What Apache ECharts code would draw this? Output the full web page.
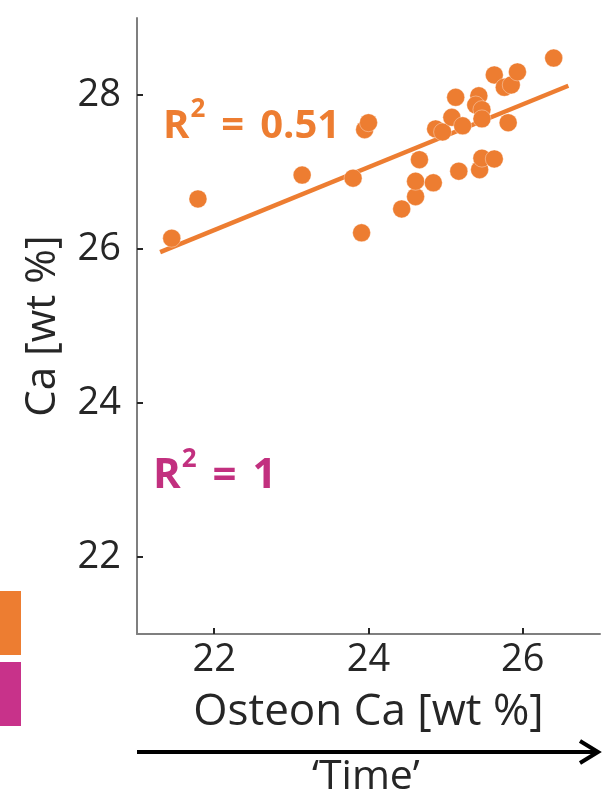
<!DOCTYPE html>
<html>
<head>
<meta charset="utf-8">
<script src="https://cdn.jsdelivr.net/npm/echarts@6/dist/echarts.min.js"></script>
<style>
html,body{margin:0;padding:0;background:#fff;}
#chart{width:603px;height:800px;}
</style>
</head>
<body>
<div id="chart"></div>
<script>
// Osteon Ca (x) vs Ca (y), wt %
const osteonCa = [21.45, 21.79, 23.14, 23.80, 23.91, 23.95, 24.00, 24.43, 24.61, 24.61,
                  24.66, 24.84, 24.87, 24.96, 25.08, 25.17, 25.22, 25.13, 25.44, 25.47,
                  25.63, 25.43, 25.39, 25.47, 25.47, 25.81, 25.63, 25.76, 25.85, 25.93, 26.40];
const caValues = [26.14, 26.65, 26.96, 26.92, 26.21, 27.55, 27.64, 26.52, 26.68, 26.88,
                  27.16, 26.86, 27.56, 27.52, 27.71, 27.01, 27.60, 27.97, 27.03, 27.18,
                  27.17, 27.99, 27.87, 27.81, 27.69, 27.64, 28.26, 28.10, 28.13, 28.30, 28.48];
// regression line end points
const fitX = [21.30, 26.59];
const fitY = [25.96, 28.12];
const xTicks = [22, 24, 26];
const yTicks = [22, 24, 26, 28];
const r2Labels = ['0.51', '1'];

const ORANGE = '#ED7D31';
const MAGENTA = '#C8328A';
const MAGENTA_TEXT = '#C2307F';
const TEXT = '#262626';
const FONT = 'Open Sans';

function r2Rich(color, size) {
  return {
    r: {fontSize: size, fontWeight: 'bold', fill: color, fontFamily: FONT, verticalAlign: 'bottom', lineHeight: 50},
    s: {fontSize: 26, fontWeight: 'bold', fill: color, fontFamily: FONT, verticalAlign: 'top', lineHeight: 50, padding: [0, 0, 22, 1]},
    e: {fontSize: size, fontWeight: 'bold', fill: color, fontFamily: FONT, verticalAlign: 'bottom', lineHeight: 50, padding: [0, 16, 0, 16]}
  };
}

const chart = echarts.init(document.getElementById('chart'));
const option = {
  animation: false,
  textStyle: {fontFamily: FONT},
  grid: {left: 137, right: 3, top: 18, bottom: 166},
  xAxis: {
    type: 'value', min: 21, max: 27,
    name: 'Osteon Ca [wt %]', nameLocation: 'middle', nameGap: 56,
    nameTextStyle: {fontSize: 44, color: TEXT, fontFamily: FONT},
    axisLine: {show: true, onZero: false, lineStyle: {color: '#7f7f7f', width: 2}},
    axisTick: {show: true, inside: true, length: 6, customValues: xTicks, lineStyle: {color: TEXT, width: 2}},
    axisLabel: {customValues: xTicks, fontSize: 38, color: TEXT, margin: 7, fontFamily: FONT},
    splitLine: {show: false}
  },
  yAxis: {
    type: 'value', min: 21, max: 29,
    name: 'Ca [wt %]', nameLocation: 'middle', nameGap: 73, nameRotate: 90,
    nameTextStyle: {fontSize: 42, color: TEXT, fontFamily: FONT},
    axisLine: {show: true, onZero: false, lineStyle: {color: '#7f7f7f', width: 2}},
    axisTick: {show: true, inside: true, length: 6, customValues: yTicks, lineStyle: {color: TEXT, width: 2}},
    axisLabel: {customValues: yTicks, fontSize: 38, color: TEXT, margin: 16, fontFamily: FONT},
    splitLine: {show: false}
  },
  series: [
    {
      type: 'line',
      data: fitX.map((x, i) => [x, fitY[i]]),
      showSymbol: false, symbol: 'none',
      lineStyle: {color: ORANGE, width: 4.5},
      z: 2
    },
    {
      type: 'scatter',
      data: osteonCa.map((x, i) => [x, caValues[i]]),
      symbolSize: 18,
      itemStyle: {color: ORANGE, borderColor: 'rgba(255,255,255,0.6)', borderWidth: 0.6, opacity: 1},
      z: 3
    }
  ],
  graphic: [
    {
      type: 'text', left: 163, top: 97,
      style: {text: '{r|R}{s|2}{e|=}{r|' + r2Labels[0] + '}', rich: r2Rich(ORANGE, 40)}
    },
    {
      type: 'text', left: 153, top: 447,
      style: {text: '{r|R}{s|2}{e|=}{r|' + r2Labels[1] + '}', rich: r2Rich(MAGENTA_TEXT, 42)}
    },
    {type: 'rect', shape: {x: 0, y: 591, width: 21, height: 64}, style: {fill: ORANGE}},
    {type: 'rect', shape: {x: 0, y: 662, width: 21, height: 64}, style: {fill: MAGENTA}},
    {type: 'line', shape: {x1: 137, y1: 752, x2: 598, y2: 752}, style: {stroke: '#000', lineWidth: 4}},
    {type: 'polyline', shape: {points: [[580, 741], [598, 752], [580, 763]]}, style: {stroke: '#000', lineWidth: 4, fill: null, lineJoin: 'miter'}},
    {
      type: 'text', left: 312, top: 757,
      style: {text: '\u2018Time\u2019', fontSize: 41, fill: TEXT, fontFamily: FONT}
    }
  ]
};
chart.setOption(option);
</script>
</body>
</html>
